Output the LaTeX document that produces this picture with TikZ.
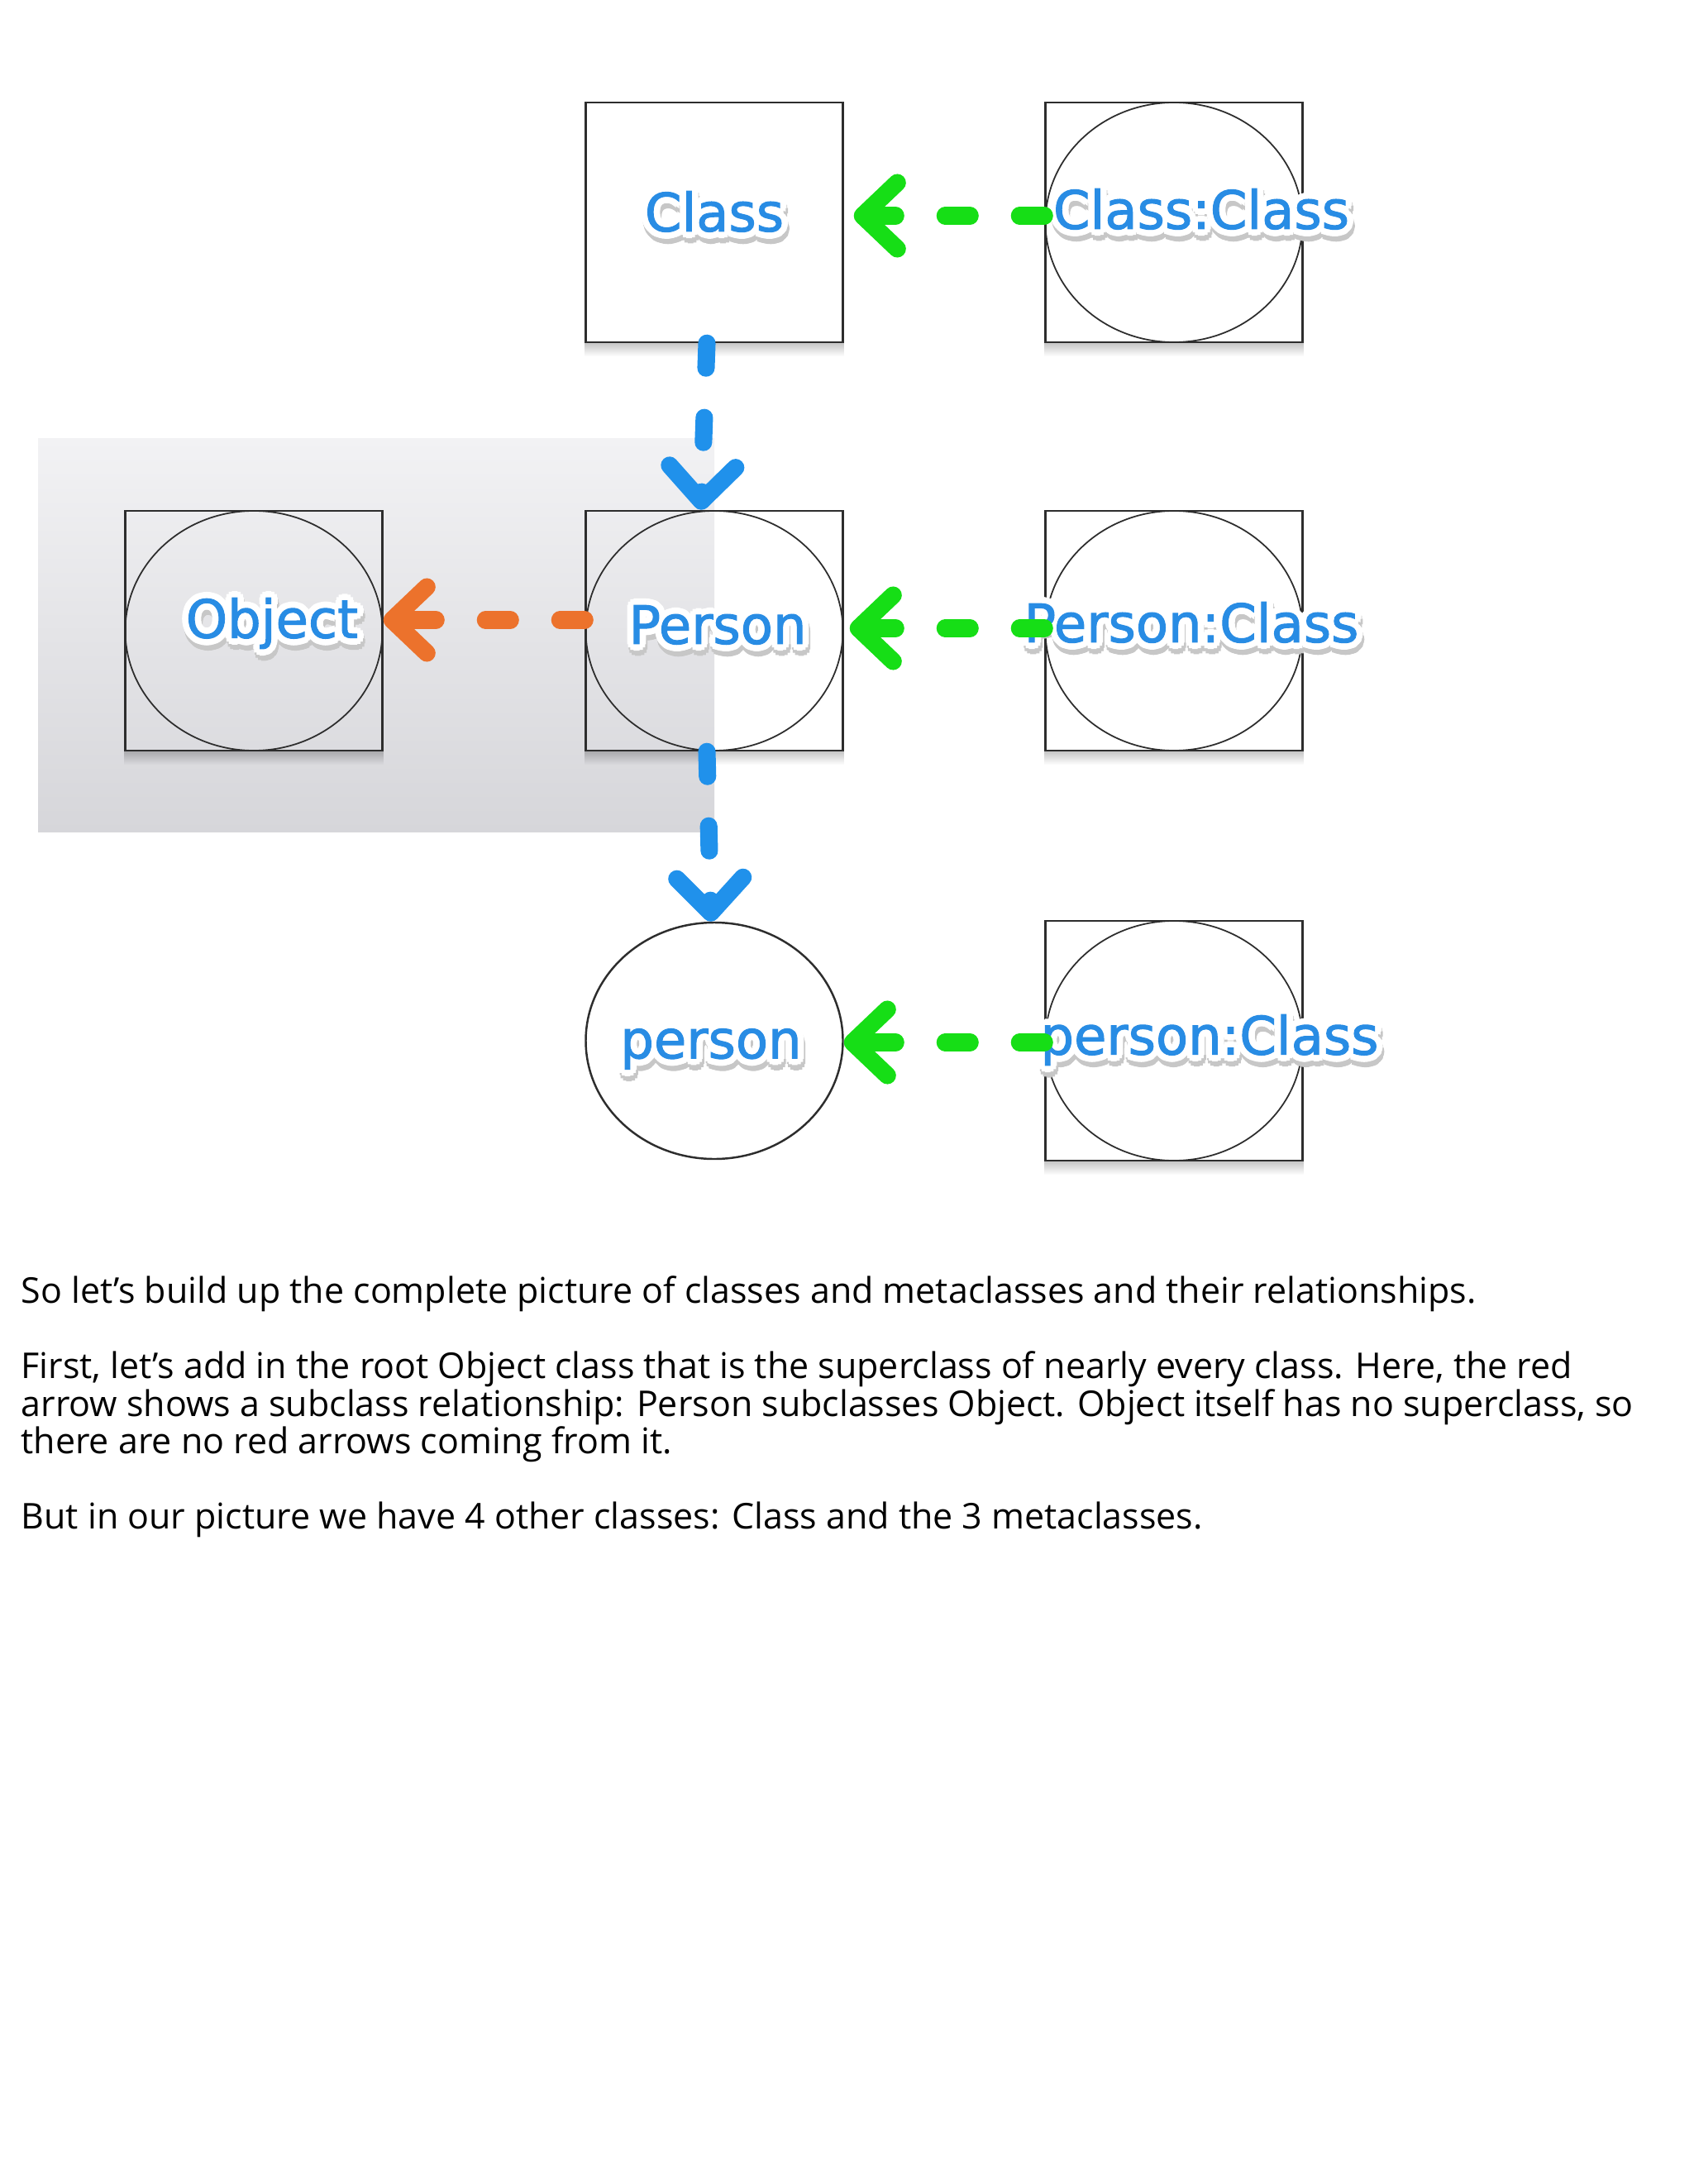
\documentclass[tikz,border=0pt]{standalone}
\usepackage{fontspec}
\usepackage{contour}
\usetikzlibrary{positioning, arrows.meta, shapes.geometric, fadings}

\newfontface\tagfont[FakeBold=1.6]{DejaVu Sans}
\newfontfamily\notefont{Open Sans}

\definecolor{boxline}{RGB}{45,45,45}
\definecolor{tagblue}{RGB}{40,140,228}
\definecolor{instgreen}{RGB}{22,222,22}
\definecolor{kindblue}{RGB}{32,145,235}
\definecolor{superorange}{RGB}{236,114,44}
\definecolor{bgtop}{RGB}{242,242,244}
\definecolor{bgbot}{RGB}{214,214,218}

\contourlength{2.2pt}
\contournumber{12}
\newcommand{\nametag}[1]{%
  \rlap{\hspace{0.5pt}\raisebox{-1.8pt}{\color{black!22}\contour{black!22}{#1}}}%
  \contour{white}{#1}}

\begin{document}
\begin{tikzpicture}[
    classbox/.style={
        draw=boxline, line width=0.7pt,
        minimum width=3.11cm, minimum height=2.90cm,
        inner sep=0
    },
    metabox/.style={
        classbox,
        path picture={\draw[boxline, line width=0.5pt]
            (path picture bounding box.center) ellipse [x radius=1.555cm, y radius=1.45cm];}
    },
    instnode/.style={
        ellipse, draw=boxline, line width=0.7pt,
        minimum width=3.11cm, minimum height=2.86cm,
        inner sep=0
    },
    lbl/.style={
        font=\tagfont\fontsize{18.2}{20}\selectfont,
        text=tagblue, inner sep=0
    },
    link/.style={
        line width=6pt, line cap=round,
        dash pattern=on 0.3cm off 0.6cm,
        -{Straight Barb[round, length=0.42cm, width=0.8cm]}
    },
    boxshadow/.style={fill=black, fill opacity=0.22, path fading=south},
    note/.style={
        font=\notefont\fontsize{12.22}{12.95}\selectfont,
        align=left, inner sep=0
    }
]

\useasboundingbox (0,0) rectangle (20.48,-26.42);

% Grey panel behind Object and Person
\shade[top color=bgtop, bottom color=bgbot] (0.46,-5.31) rectangle (8.64,-10.06);

% Top row
\node[classbox, label={[lbl, yshift=0.06cm]center:\nametag{Class}}] (cls) at (8.64,-2.69) {};
\node[metabox, label={[lbl, xshift=0.33cm, yshift=0.09cm]center:\nametag{Class:Class}}] (clscls) at (14.20,-2.69) {};

% Middle row
\node[metabox, label={[lbl, xshift=0.22cm, yshift=0.02cm]center:\nametag{Object}}] (obj) at (3.07,-7.63) {};
\node[metabox, label={[lbl, xshift=0.04cm, yshift=0.0cm]center:\nametag{Person}}] (per) at (8.64,-7.63) {};
\node[metabox, label={[lbl, xshift=0.21cm, yshift=0.03cm]center:\nametag{Person:Class}}] (percls) at (14.20,-7.63) {};

% Bottom row
\node[instnode, label={[lbl, xshift=-0.04cm, yshift=-0.17cm]center:\nametag{person}}] (inst) at (8.64,-12.59) {};
\node[metabox, label={[lbl, xshift=0.43cm, yshift=-0.06cm]center:\nametag{person:Class}}] (instcls) at (14.20,-12.59) {};

% Shadows under the boxes
\fill[boxshadow] (cls.south west) rectangle ([yshift=-0.16cm]cls.south east);
\fill[boxshadow] (clscls.south west) rectangle ([yshift=-0.16cm]clscls.south east);
\fill[boxshadow] (obj.south west) rectangle ([yshift=-0.16cm]obj.south east);
\fill[boxshadow] (per.south west) rectangle ([yshift=-0.16cm]per.south east);
\fill[boxshadow] (percls.south west) rectangle ([yshift=-0.16cm]percls.south east);
\fill[boxshadow] (instcls.south west) rectangle ([yshift=-0.16cm]instcls.south east);

% Instance-of arrows (green)
\draw[link, instgreen, shorten >=0.12cm] ([yshift=0.08cm]clscls.west) -- ([yshift=0.08cm]cls.east);
\draw[link, instgreen, shorten >=0.07cm] ([yshift=0.03cm]percls.west) -- ([yshift=0.03cm]per.east);
\draw[link, instgreen] ([yshift=-0.02cm]instcls.west) -- ([yshift=-0.02cm]inst.east);

% Class-of arrows (blue)
\draw[link, kindblue] ([xshift=-0.09cm]cls.south) -- ([xshift=-0.16cm]per.north);
\draw[link, kindblue] ([xshift=-0.09cm]per.south) -- ([xshift=-0.04cm]inst.north);

% Superclass arrow (orange)
\draw[link, superorange] ([yshift=0.13cm]per.west) -- ([yshift=0.13cm]obj.east);

% Notes
\node[note, anchor=north west] (caption) at (0.25,-15.43) {%
So let’s build up the complete picture of classes and metaclasses and their relationships.\\[12.95pt]
First, let’s add in the root Object class that is the superclass of nearly every class. Here, the red\\
arrow shows a subclass relationship: Person subclasses Object. Object itself has no superclass, so\\
there are no red arrows coming from it.\\[12.95pt]
But in our picture we have 4 other classes: Class and the 3 metaclasses.};

\end{tikzpicture}
\end{document}
